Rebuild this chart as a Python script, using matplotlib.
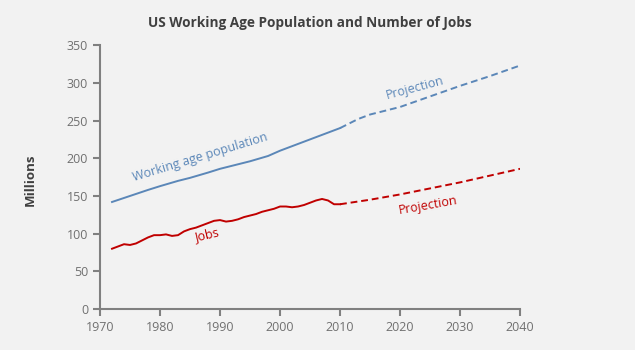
import matplotlib
matplotlib.use('Agg')
from matplotlib import pyplot as plt

# working age population, millions
pop_years = [1972, 1975, 1978, 1980, 1983, 1985, 1988, 1990, 1993, 1995, 1998, 2000, 2002, 2005, 2008, 2010]
pop_vals = [142, 150, 158, 163, 170, 174, 181, 186, 192, 196, 203, 210, 216, 225, 234, 240]
pop_proj_years = [2010, 2013, 2015, 2020, 2025, 2030, 2035, 2040]
pop_proj_vals = [240, 252, 258, 268, 282, 296, 309, 323]

# jobs, millions
job_years = [1972, 1973, 1974, 1975, 1976, 1977, 1978, 1979, 1980, 1981, 1982, 1983, 1984, 1985,
             1986, 1987, 1988, 1989, 1990, 1991, 1992, 1993, 1994, 1995, 1996, 1997, 1998, 1999,
             2000, 2001, 2002, 2003, 2004, 2005, 2006, 2007, 2008, 2009, 2010]
job_vals = [80, 83, 86, 85, 87, 91, 95, 98, 98, 99, 97, 98, 103, 106, 108, 111, 114, 117, 118, 116,
            117, 119, 122, 124, 126, 129, 131, 133, 136, 136, 135, 136, 138, 141, 144, 146, 144, 139, 139]
job_proj_years = [2010, 2015, 2020, 2025, 2030, 2035, 2040]
job_proj_vals = [139, 145, 152, 160, 168, 177, 186]

blue = '#5b87b8'
red = '#c00000'
grey = '#808080'
bg = '#f2f2f2'

fig = plt.figure(figsize=(6.35, 3.5), dpi=100, facecolor=bg)
ax = fig.add_axes([0.1575, 0.117, 0.6615, 0.754], facecolor=bg)

ax.plot(pop_years, pop_vals, color=blue, lw=1.4)
ax.plot(pop_proj_years, pop_proj_vals, color=blue, lw=1.4, ls=(0, (3.5, 2)))
ax.plot(job_years, job_vals, color=red, lw=1.4)
ax.plot(job_proj_years, job_proj_vals, color=red, lw=1.4, ls=(0, (3.5, 2)))

ax.set_xlim(1970, 2040)
ax.set_ylim(0, 350)
ax.set_xticks(range(1970, 2041, 10))
ax.set_yticks(range(0, 351, 50))
for s in ['top', 'right']:
    ax.spines[s].set_visible(False)
for s in ['left', 'bottom']:
    ax.spines[s].set_color(grey)
    ax.spines[s].set_linewidth(1.5)
ax.tick_params(colors=grey, labelcolor='#707070', labelsize=9, width=1.5, length=5)

fam = ['Open Sans', 'DejaVu Sans']
for lab in ax.get_xticklabels() + ax.get_yticklabels():
    lab.set_family(fam)

fig.text(0.488, 0.935, 'US Working Age Population and Number of Jobs', ha='center', va='center',
         fontsize=9.8, fontweight='bold', color='#404040', family=fam)
fig.text(0.048, 0.485, 'Millions', rotation=90, ha='center', va='center',
         fontsize=9.5, fontweight='bold', color='#404040', family=fam)

ax.text(1986.7, 201, 'Working age population', color=blue, fontsize=9, rotation=17,
        ha='center', va='center', family=fam)
ax.text(2022.5, 293, 'Projection', color=blue, fontsize=9, rotation=15,
        ha='center', va='center', family=fam)
ax.text(1987.8, 98, 'Jobs', color=red, fontsize=9, rotation=13,
        ha='center', va='center', family=fam)
ax.text(2024.7, 138, 'Projection', color=red, fontsize=9, rotation=10,
        ha='center', va='center', family=fam)

fig.savefig('out.png', dpi=100, facecolor=bg)
